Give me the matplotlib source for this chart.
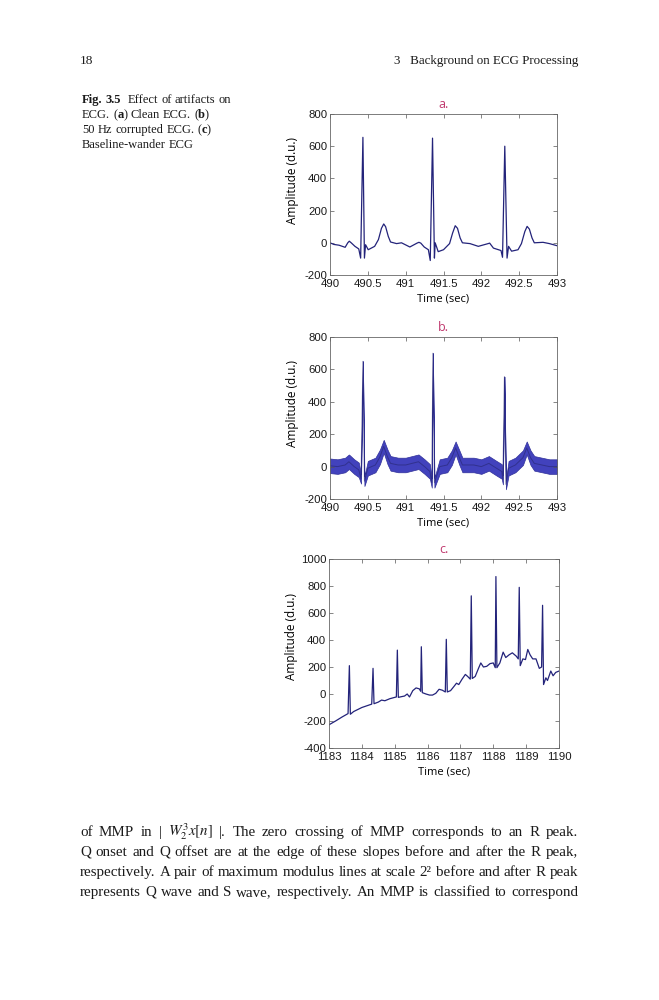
import numpy as np
import matplotlib
matplotlib.use("Agg")
import matplotlib.pyplot as plt

plt.rcParams['mathtext.fontset'] = 'stix'
plt.rcParams['axes.unicode_minus'] = False

# ---- data ----
# (a) clean ECG
t_a = [490.00, 490.05, 490.12, 490.20, 490.235, 490.255, 490.28, 490.33, 490.38, 490.405,
       490.435, 490.455, 490.47, 490.505, 490.59, 490.64, 490.68, 490.71, 490.735, 490.77,
       490.80, 490.88, 490.945, 491.055, 491.15, 491.175, 491.20, 491.245, 491.30, 491.325,
       491.355, 491.38, 491.39, 491.43, 491.50, 491.58, 491.62, 491.655, 491.685, 491.72,
       491.75, 491.85, 491.96, 492.09, 492.11, 492.16, 492.26, 492.28, 492.31, 492.34,
       492.36, 492.40, 492.485, 492.53, 492.575, 492.605, 492.635, 492.67, 492.70, 492.815,
       492.90, 493.00]
v_a = [0, -10, -15, -28, 0, 10, 0, -22, -38, -95,
       655, -95, -12, -43, -22, 20, 90, 117, 100, 40,
       5, -5, 0, -26, -2, 3, -2, -26, -43, -110,
       650, -95, 0, -55, -43, -5, 60, 106, 90, 30,
       0, -5, -22, -5, -2, -33, -48, -90, 600, -95,
       -22, -52, -43, -5, 70, 102, 85, 30, 0, 3,
       -5, -18]

# (b) 50 Hz corrupted ECG: trace centre and half height of the hum band
t_b = [490.00, 490.10, 490.20, 490.25, 490.32, 490.38, 490.41, 490.435, 490.455, 490.50,
       490.60, 490.66, 490.71, 490.76, 490.80, 490.90, 491.00, 491.17, 491.25, 491.32,
       491.345, 491.36, 491.38, 491.45, 491.55, 491.61, 491.66, 491.71, 491.75, 491.90,
       492.00, 492.10, 492.20, 492.27, 492.285, 492.305, 492.325, 492.36, 492.45, 492.55,
       492.60, 492.65, 492.70, 492.80, 492.90, 493.00]
v_b = [5, 0, 10, 30, 0, -20, -75, 650, -90, -10,
       10, 60, 125, 60, 20, 10, 10, 30, 0, -30,
       -100, 700, -100, 0, 10, 55, 115, 55, 10, 10,
       0, 20, -10, -30, -80, 555, -110, -10, 10, 55,
       115, 55, 20, 10, 0, 0]
hum_b = [45, 45, 45, 45, 45, 45, 30, 0, 30, 45,
         45, 45, 40, 45, 45, 45, 45, 45, 45, 45,
         30, 0, 30, 45, 45, 45, 40, 45, 45, 45,
         45, 45, 45, 45, 30, 0, 30, 45, 45, 45,
         40, 45, 45, 45, 45, 45]

# (c) baseline-wander ECG
t_c = [1183.00, 1183.20, 1183.40, 1183.58, 1183.62, 1183.65, 1183.75, 1184.00, 1184.30, 1184.34,
       1184.37, 1184.50, 1184.60, 1184.70, 1184.85, 1185.00, 1185.05, 1185.08, 1185.11, 1185.20,
       1185.30, 1185.38, 1185.45, 1185.55, 1185.65, 1185.75, 1185.79, 1185.81, 1185.84, 1185.95,
       1186.06, 1186.15, 1186.25, 1186.35, 1186.45, 1186.54, 1186.57, 1186.60, 1186.70, 1186.80,
       1186.88, 1186.95, 1187.05, 1187.15, 1187.22, 1187.30, 1187.33, 1187.36, 1187.45, 1187.55,
       1187.62, 1187.70, 1187.80, 1187.90, 1188.00, 1188.06, 1188.08, 1188.11, 1188.20, 1188.30,
       1188.38, 1188.48, 1188.58, 1188.70, 1188.76, 1188.79, 1188.82, 1188.90, 1188.98, 1189.05,
       1189.12, 1189.20, 1189.30, 1189.40, 1189.47, 1189.50, 1189.53, 1189.60, 1189.65, 1189.75,
       1189.82, 1189.90, 1190.00]
v_c = [-228, -200, -170, -145, 210, -150, -130, -100, -75, 190,
       -72, -60, -45, -50, -35, -25, -22, 325, -25, -20,
       -15, 0, -22, 25, 45, 38, 20, 350, 10, 0,
       -8, -8, 5, 35, 28, 15, 405, 15, 25, 55,
       80, 70, 110, 145, 130, 110, 727, 115, 130, 190,
       230, 200, 205, 225, 230, 195, 870, 195, 230, 310,
       270, 290, 305, 280, 260, 790, 210, 260, 255, 330,
       290, 260, 260, 190, 200, 657, 70, 120, 100, 170,
       135, 160, 170]

ticks_ab = [490, 490.5, 491, 491.5, 492, 492.5, 493]
labels_ab = ['490', '490.5', '491', '491.5', '492', '492.5', '493']
yticks_ab = [-200, 0, 200, 400, 600, 800]
ticks_c = [1183, 1184, 1185, 1186, 1187, 1188, 1189, 1190]
yticks_c = [-400, -200, 0, 200, 400, 600, 800, 1000]

line_col = '#23237a'
hum_col = '#4242bd'
title_col = '#c0396e'

W, H = 659, 1000
fig = plt.figure(figsize=(6.59, 10), dpi=100)
renderer = fig.canvas.get_renderer()

def fx(x):
    return x / W

def fy(y):
    return 1 - y / H

serif = dict(family='Liberation Serif', color='#1a1a1a', va='baseline')

def width_of(s, **kw):
    t = fig.text(0, 0, s, **kw)
    w = t.get_window_extent(renderer).width
    t.remove()
    return w

def justify(x0, x1, y, line, size):
    words = line.split(' ')
    ws = [width_of(w, size=size, **serif) for w in words]
    gap = (x1 - x0 - sum(ws)) / (len(words) - 1)
    x = x0
    for w, wd in zip(words, ws):
        fig.text(fx(x), fy(y), w, size=size, **serif)
        x += wd + gap

def runs_line(x, y, runs, size):
    # runs glue together; a None run is one word space
    sp = 0.25 * size * 100 / 72
    for r in runs:
        if r is None:
            x += sp
            continue
        s, wt = r
        for k, w in enumerate(s.split(' ')):
            if k:
                x += sp
            fig.text(fx(x), fy(y), w, size=size, weight=wt, **serif)
            x += width_of(w, size=size, weight=wt, **serif)

# header
fig.text(fx(80), fy(64), '18', size=9.6, **serif)
fig.text(fx(578), fy(64), '3   Background on ECG Processing', size=9.4, ha='right', **serif)

# caption
cap = 9.0
runs_line(82, 103, [('Fig. 3.5', 'bold'), None, None, ('Effect of artifacts on', 'normal')], cap)
runs_line(82, 118, [('ECG. (', 'normal'), ('a', 'bold'), (')', 'normal'), None,
                    ('Clean ECG. (', 'normal'), ('b', 'bold'), (')', 'normal')], cap)
runs_line(82, 133, [('50 Hz corrupted ECG. (', 'normal'), ('c', 'bold'), (')', 'normal')], cap)
runs_line(82, 148, [('Baseline-wander ECG', 'normal')], cap)

# body text below the figure
body = [
    r'of MMP in | $W_2^3x[n]$ |. The zero crossing of MMP corresponds to an R peak.',
    'Q onset and Q offset are at the edge of these slopes before and after the R peak,',
    'respectively. A pair of maximum modulus lines at scale 2\u00b2 before and after R peak',
    'represents Q wave and S wave, respectively. An MMP is classified to correspond',
]
for i, line in enumerate(body):
    justify(80, 578, 836 + 20 * i, line, 10.8)

# ---- the three ECG panels ----
def make_ax(l, t, r, b):
    return fig.add_axes([fx(l), fy(b), (r - l) / W, (b - t) / H])

def style(ax, title, xt, xl, yt, xlim, ylim):
    ax.set_xlim(*xlim)
    ax.set_ylim(*ylim)
    ax.set_xticks(xt)
    ax.set_xticklabels(xl, family='Liberation Sans', size=8.2)
    ax.set_yticks(yt)
    ax.set_yticklabels([str(v) for v in yt], family='Liberation Sans', size=8.2)
    ax.tick_params(direction='in', length=3, width=0.5, top=True, right=True,
                   colors='#555555', labelcolor='#1a1a1a', pad=2)
    ax.tick_params(axis='x', pad=3)
    for s in ax.spines.values():
        s.set_linewidth(0.6)
        s.set_color('#666666')
    ax.set_title(title, family='Open Sans', size=9, color=title_col, pad=4)
    ax.set_xlabel('Time (sec)', family='Open Sans', size=8, labelpad=3)
    ax.set_ylabel('Amplitude (d.u.)', family='Open Sans', size=8.5)
    w = ax.get_position().width * W
    ax.yaxis.set_label_coords(-31 / w, 0.59)

ax = make_ax(330, 114, 557, 275)
ax.plot(t_a, v_a, color=line_col, lw=0.9)
style(ax, 'a.', ticks_ab, labels_ab, yticks_ab, (490, 493), (-200, 800))

ax = make_ax(330, 337, 557, 499)
vb = np.array(v_b, dtype=float)
hb = np.array(hum_b, dtype=float)
ax.fill_between(t_b, vb - hb, vb + hb, color=hum_col, lw=0.5, edgecolor='#30309a')
ax.plot(t_b, v_b, color='#26266e', lw=0.7, alpha=0.6)
style(ax, 'b.', ticks_ab, labels_ab, yticks_ab, (490, 493), (-200, 800))

ax = make_ax(329, 559, 559, 748)
ax.plot(t_c, v_c, color=line_col, lw=0.9)
style(ax, 'c.', ticks_c, [str(v) for v in ticks_c], yticks_c, (1183, 1190), (-400, 1000))

fig.savefig('out.png', dpi=100)
